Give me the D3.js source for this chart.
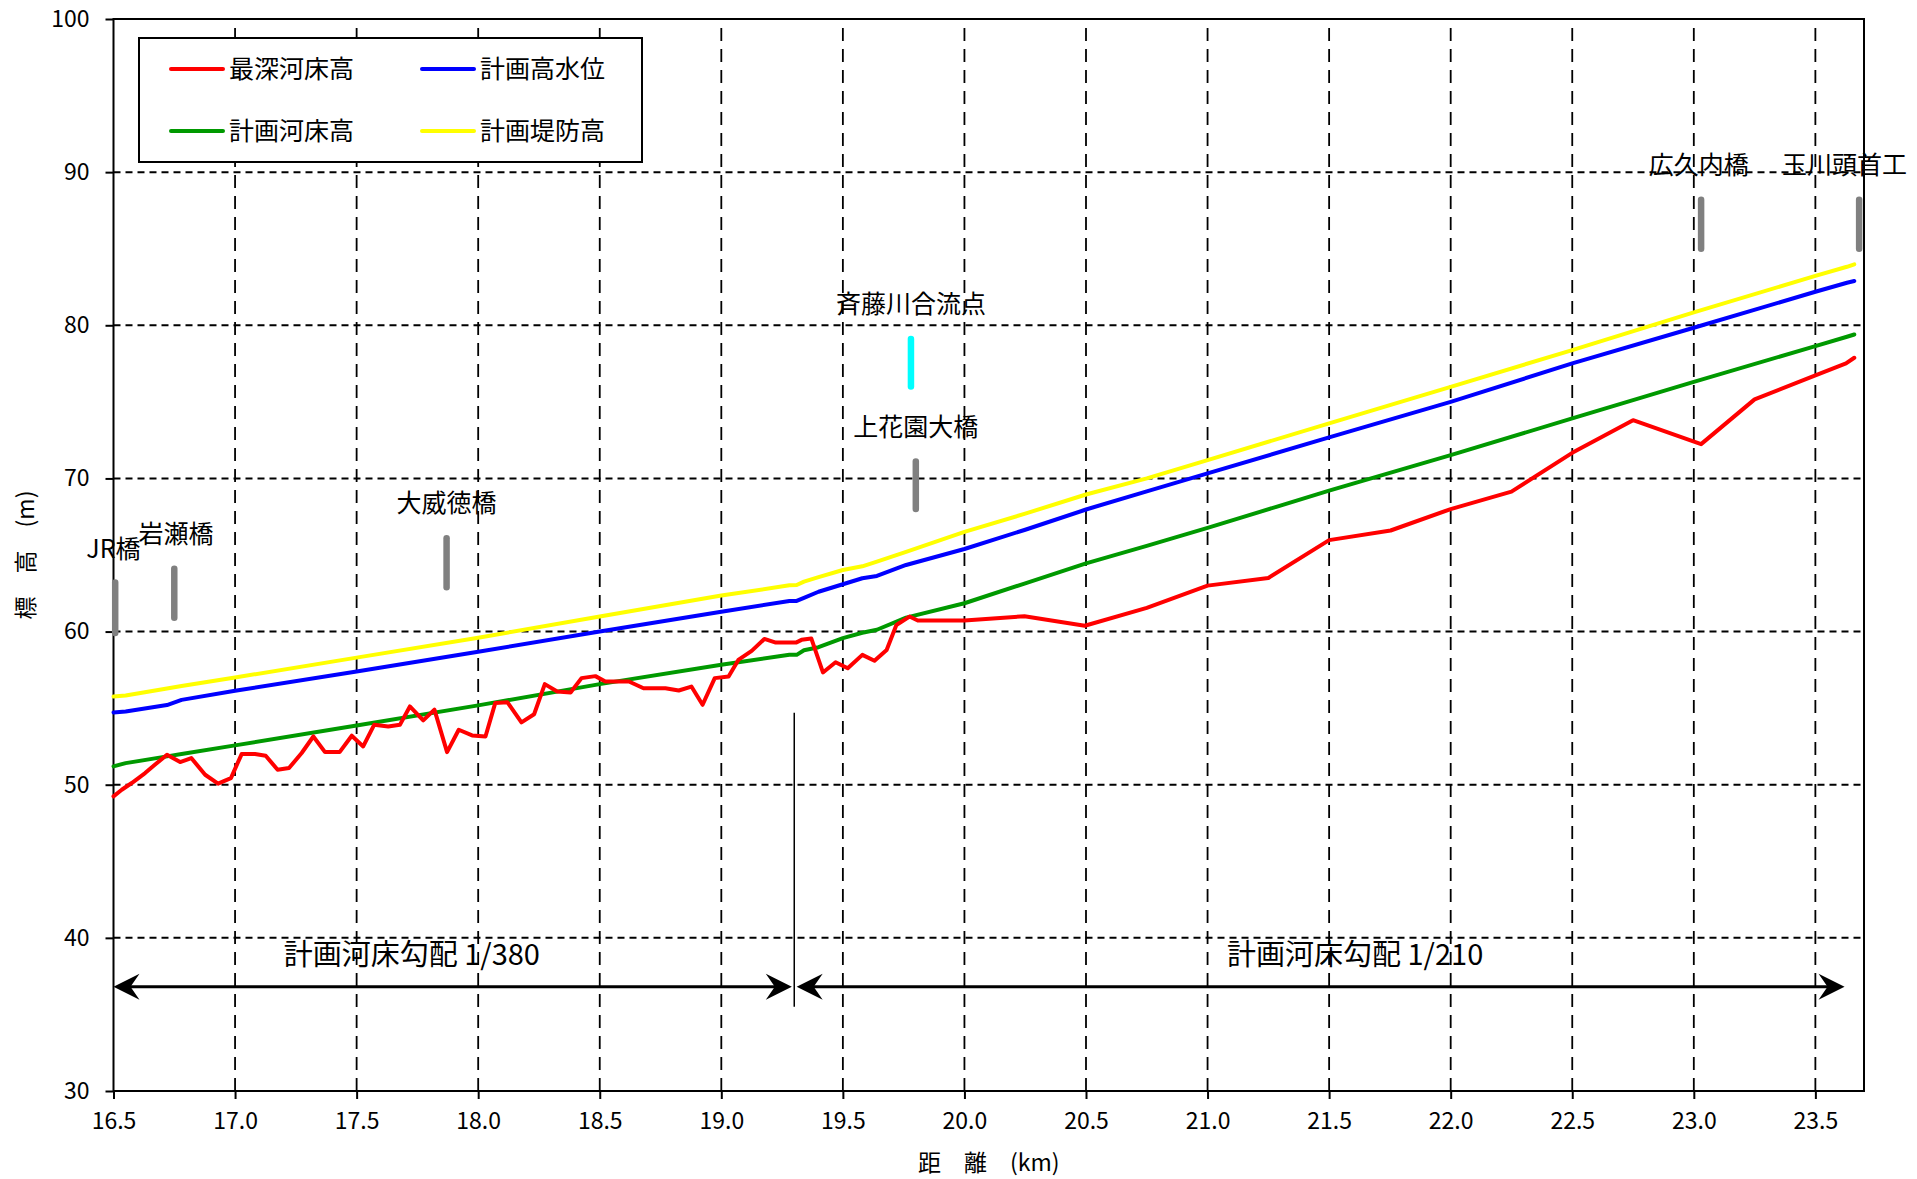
<!DOCTYPE html>
<html>
<head>
<meta charset="utf-8">
<script src="https://cdn.jsdelivr.net/npm/d3@7"></script>
<style>
    body { margin: 0; background: #fff; }
    svg text { font-family: "Noto Sans CJK JP", "Noto Sans", sans-serif; fill: #000; }
</style>
</head>
<body>
<svg id="chart" width="1917" height="1179"></svg>
<script>

/*************************************************************************/
// data

var seriesNames  = ['最深河床高', '計画高水位', '計画河床高', '計画堤防高'];
var seriesColors = ['#ff0000', '#0000ff', '#009900', '#ffff00'];

// 最深河床高 (measured, km / m)
var bedKm = [16.50, 16.534, 16.575, 16.63, 16.67, 16.72, 16.774, 16.82, 16.877, 16.93,
             16.983, 17.027, 17.082, 17.126, 17.175, 17.222, 17.274, 17.322, 17.37, 17.43,
             17.48, 17.527, 17.572, 17.63, 17.678, 17.719, 17.774, 17.82, 17.872, 17.92,
             17.975, 18.03, 18.07, 18.12, 18.178, 18.23, 18.274, 18.325, 18.38, 18.425,
             18.482, 18.523, 18.62, 18.68, 18.77, 18.825, 18.877, 18.923, 18.973, 19.03,
             19.07, 19.125, 19.177, 19.224, 19.307, 19.33, 19.37, 19.418, 19.47, 19.52,
             19.58, 19.63, 19.68, 19.72, 19.774, 19.808, 20.0, 20.247, 20.495, 20.75,
             21.0, 21.25, 21.5, 21.753, 22.0, 22.25, 22.5, 22.75, 23.03, 23.25,
             23.5, 23.626, 23.66];
var bedVal = [49.24, 49.67, 50.11, 50.76, 51.3, 51.96, 51.48, 51.74, 50.65, 50.07,
              50.43, 52.0, 52.0, 51.89, 50.98, 51.09, 52.07, 53.15, 52.13, 52.13,
              53.2, 52.5, 53.91, 53.8, 53.91, 55.11, 54.2, 54.9, 52.13, 53.59,
              53.22, 53.15, 55.33, 55.39, 54.07, 54.6, 56.57, 56.09, 56.02, 56.96,
              57.09, 56.74, 56.74, 56.3, 56.3, 56.15, 56.41, 55.22, 56.96, 57.07,
              58.15, 58.74, 59.52, 59.28, 59.28, 59.46, 59.55, 57.33, 58.0, 57.6,
              58.48, 58.09, 58.8, 60.43, 60.98, 60.72, 60.72, 61.0, 60.38, 61.55,
              63.0, 63.5, 65.97, 66.6, 68.0, 69.14, 71.67, 73.8, 72.24, 75.16,
              76.73, 77.51, 77.88];

// plan lines share one set of sections
var planKm = [16.5, 16.55, 16.72, 16.78, 17.0, 17.5, 18.0, 18.5, 19.0, 19.28,
              19.31, 19.34, 19.4, 19.5, 19.58, 19.64, 19.76, 20.0, 20.25, 20.5,
              20.75, 21.0, 21.5, 22.0, 22.5, 23.0, 23.5, 23.63, 23.66];
var hwlVal  = [54.72, 54.78, 55.2, 55.54, 56.13, 57.39, 58.68, 60.0, 61.3, 62.0,
               62.0, 62.2, 62.6, 63.09, 63.48, 63.63, 64.35, 65.39, 66.65, 67.97,
               69.15, 70.33, 72.68, 75.0, 77.51, 79.84, 82.19, 82.78, 82.89];
var planBedVal = [51.2, 51.41, 51.85, 52.0, 52.57, 53.87, 55.18, 56.57, 57.83, 58.48,
                  58.48, 58.78, 58.98, 59.57, 59.92, 60.12, 60.91, 61.85, 63.15, 64.45,
                  65.6, 66.77, 69.2, 71.52, 73.92, 76.31, 78.64, 79.25, 79.4];
var leveeVal = [55.76, 55.82, 56.28, 56.44, 57.0, 58.3, 59.6, 60.98, 62.35, 63.02,
                63.04, 63.26, 63.55, 64.02, 64.26, 64.57, 65.2, 66.51, 67.7, 68.95,
                70.0, 71.2, 73.59, 75.98, 78.38, 80.84, 83.23, 83.82, 83.98];

// landmarks
var markNames  = ['JR橋', '岩瀬橋', '大威徳橋', '斉藤川合流点', '上花園大橋', '広久内橋', '玉川頭首工'];
var markKm     = [16.507, 16.75, 17.87, 19.78, 19.80, 23.03, 23.68];
var markLow    = [59.9, 60.9, 62.9, 76.0, 68.0, 85.0, 85.0];
var markHigh   = [63.2, 64.1, 66.1, 79.1, 71.1, 88.2, 88.2];
var markLabelKm = [16.50, 16.757, 17.87, 19.78, 19.80, 23.02, 23.62];
var markLabelY  = [65.5, 66.5, 68.5, 81.5, 73.5, 90.6, 90.6];
var markColors = ['#808080', '#808080', '#808080', '#00ffff', '#808080', '#808080', '#808080'];

// bed gradient spans
var gradeFrom   = [16.5, 19.31];
var gradeTo     = [19.29, 23.62];
var gradeLabels = ['計画河床勾配 1/380', '計画河床勾配 1/210'];
var gradeLabelKm = [17.2, 21.08];
var gradeArrowY = 36.8;
var gradeLabelY = 39.1;
var gradeBreakKm = 19.3;
var gradeBreakY  = [54.7, 35.5];

var xTicks = d3.range(16.5, 23.51, 0.5);
var yTicks = d3.range(30, 100.1, 10);

/*************************************************************************/
// small helpers in the spirit of d3-selection-multi

d3.selection.prototype.attrs = function(o){
    for (var k in o) this.attr(k, o[k]);
    return this;
};
d3.selection.prototype.styles = function(o){
    for (var k in o) this.style(k, o[k]);
    return this;
};

/*************************************************************************/
// layout

var W = 1917, H = 1179;
var m = { left: 113.5, top: 19, right: 53, bottom: 88 };

var svg = d3.select('#chart');

var x = d3.scaleLinear().domain([16.5, 23.7]).range([m.left, W - m.right]);
var y = d3.scaleLinear().domain([30, 100]).range([H - m.bottom, m.top]);

/*************************************************************************/
// grid

svg.append('g')
    .selectAll('line')
    .data(xTicks.slice(1))
    .enter().append('line')
    .attrs({ x1: d => x(d), x2: d => x(d), y1: y(30), y2: y(100) })
    .styles({ 'stroke': '#000', 'stroke-width': 1.8, 'stroke-dasharray': '13 8' });

svg.append('g')
    .selectAll('line')
    .data(yTicks.filter(d => d > 30 && d < 100))
    .enter().append('line')
    .attrs({ x1: x(16.5), x2: x(23.7), y1: d => y(d), y2: d => y(d) })
    .styles({ 'stroke': '#000', 'stroke-width': 2, 'stroke-dasharray': '7 5' });

/*************************************************************************/
// axes

var xAxis = svg.append('g')
    .attr('transform', 'translate(0,' + y(30) + ')')
    .call(d3.axisBottom(x).tickValues(xTicks).tickFormat(d3.format('.1f')).tickSize(8).tickPadding(14));

var yAxis = svg.append('g')
    .attr('transform', 'translate(' + x(16.5) + ',0)')
    .call(d3.axisLeft(y).tickValues(yTicks).tickSize(8).tickPadding(16));

[xAxis, yAxis].forEach(function(a){
    a.select('.domain').remove();
    a.selectAll('.tick line').styles({ 'stroke': '#000', 'stroke-width': 2 });
    a.selectAll('.tick text').styles({ 'font-size': '23px', 'font-family': '"Noto Sans CJK JP", sans-serif', 'fill': '#000' });
});

svg.append('rect')
    .attrs({ x: x(16.5), y: y(100), width: x(23.7) - x(16.5), height: y(30) - y(100) })
    .styles({ 'fill': 'none', 'stroke': '#000', 'stroke-width': 2 });

svg.append('text')
    .attrs({ x: (x(16.5) + x(23.7)) / 2, y: 1161, 'text-anchor': 'middle', 'dominant-baseline': 'central' })
    .style('font-size', '23px')
    .text('距　離　(km)');

svg.append('text')
    .attrs({ transform: 'translate(24,' + ((y(30) + y(100)) / 2) + ') rotate(-90)', 'text-anchor': 'middle', 'dominant-baseline': 'central' })
    .style('font-size', '23px')
    .text('標　高　(m)');

/*************************************************************************/
// series

var line = d3.line().x(d => x(d[0])).y(d => y(d[1]));
var seriesData = [d3.zip(bedKm, bedVal), d3.zip(planKm, hwlVal), d3.zip(planKm, planBedVal), d3.zip(planKm, leveeVal)];
var drawOrder = [3, 1, 2, 0];

svg.append('g')
    .selectAll('path')
    .data(drawOrder)
    .enter().append('path')
    .attr('d', i => line(seriesData[i]))
    .styles({ 'fill': 'none', 'stroke': i => seriesColors[i], 'stroke-width': 4, 'stroke-linejoin': 'round', 'stroke-linecap': 'round' });

/*************************************************************************/
// landmarks

var marks = svg.append('g');
marks.selectAll('line')
    .data(markNames)
    .enter().append('line')
    .attrs({ x1: (d, i) => x(markKm[i]), x2: (d, i) => x(markKm[i]), y1: (d, i) => y(markLow[i]), y2: (d, i) => y(markHigh[i]) })
    .styles({ 'stroke': (d, i) => markColors[i], 'stroke-width': 6.5, 'stroke-linecap': 'round' });

marks.selectAll('text')
    .data(markNames)
    .enter().append('text')
    .attrs({ x: (d, i) => x(markLabelKm[i]), y: (d, i) => y(markLabelY[i]), 'text-anchor': 'middle', 'dominant-baseline': 'central' })
    .style('font-size', '25px')
    .text(d => d);

/*************************************************************************/
// gradient spans

var grade = svg.append('g');

grade.append('line')
    .attrs({ x1: x(gradeBreakKm), x2: x(gradeBreakKm), y1: y(gradeBreakY[0]), y2: y(gradeBreakY[1]) })
    .styles({ 'stroke': '#000', 'stroke-width': 1.5 });

function arrowHead(tx, ty, dir){
    // dir = -1 points left, 1 points right
    var b = -dir;
    return 'M' + tx + ',' + ty +
        'L' + (tx + b * 26) + ',' + (ty - 13) +
        'L' + (tx + b * 17) + ',' + ty +
        'L' + (tx + b * 26) + ',' + (ty + 13) + 'Z';
}

gradeLabels.forEach(function(lbl, i){
    var ay = y(gradeArrowY);
    grade.append('line')
        .attrs({ x1: x(gradeFrom[i]) + 10, x2: x(gradeTo[i]) - 10, y1: ay, y2: ay })
        .styles({ 'stroke': '#000', 'stroke-width': 3 });
    grade.append('path').attr('d', arrowHead(x(gradeFrom[i]), ay, -1)).style('fill', '#000');
    grade.append('path').attr('d', arrowHead(x(gradeTo[i]), ay, 1)).style('fill', '#000');
    grade.append('text')
        .attrs({ x: x(gradeLabelKm[i]), y: y(gradeLabelY), 'dominant-baseline': 'central' })
        .style('font-size', '29px')
        .text(lbl);
});

/*************************************************************************/
// legend

var legend = svg.append('g');
legend.append('rect')
    .attrs({ x: 139, y: 38, width: 503, height: 124 })
    .styles({ 'fill': '#fff', 'stroke': '#000', 'stroke-width': 2 });

var legendCol = [171, 422];
var legendRow = [69, 131];

var items = legend.selectAll('g.item')
    .data(seriesNames)
    .enter().append('g')
    .attr('class', 'item')
    .attr('transform', (d, i) => 'translate(' + legendCol[i % 2] + ',' + legendRow[Math.floor(i / 2)] + ')');

items.append('line')
    .attrs({ x1: 0, x2: 52, y1: 0, y2: 0 })
    .styles({ 'stroke': (d, i) => seriesColors[i], 'stroke-width': 4, 'stroke-linecap': 'round' });

items.append('text')
    .attrs({ x: 58, y: -2, 'dominant-baseline': 'central' })
    .style('font-size', '25px')
    .text(d => d);

/*************************************************************************/
</script>
</body>
</html>
